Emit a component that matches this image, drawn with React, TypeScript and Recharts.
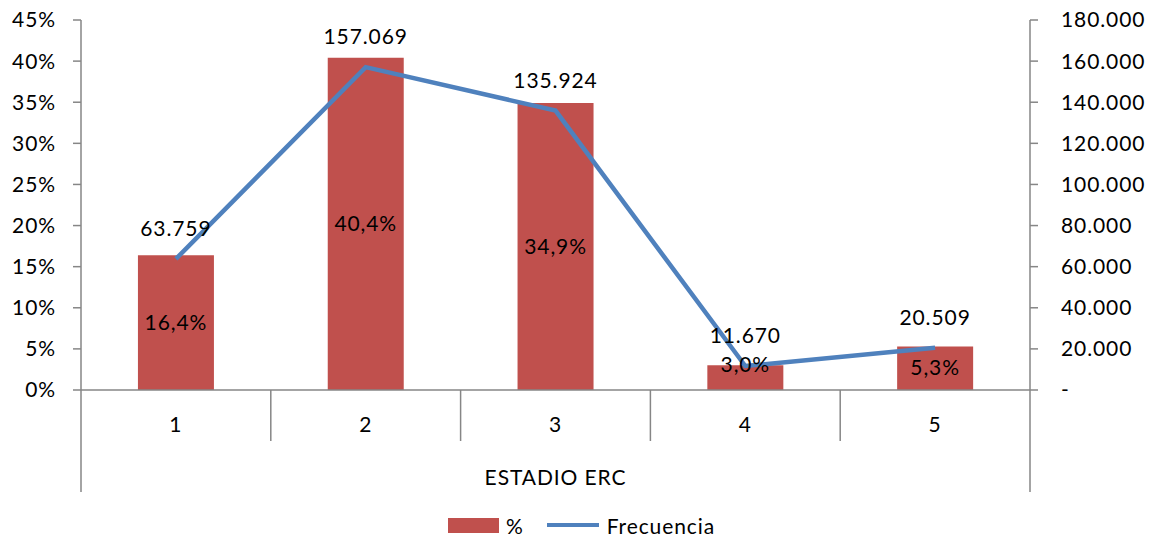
import React from "react";
import {
  Bar,
  ComposedChart,
  LabelList,
  Legend,
  Line,
  XAxis,
  YAxis,
} from "recharts";

const categories = ["1", "2", "3", "4", "5"];
const porcentaje = [16.4, 40.4, 34.9, 3.0, 5.3];
const frecuencia = [63759, 157069, 135924, 11670, 20509];
const leftTicks = [0, 5, 10, 15, 20, 25, 30, 35, 40, 45];
const rightTicks = [0, 20000, 40000, 60000, 80000, 100000, 120000, 140000, 160000, 180000];
const xTitle = "ESTADIO ERC";

const data = categories.map((c, i) => ({
  estadio: c,
  pct: porcentaje[i],
  freq: frecuencia[i],
}));

const W = 1163;
const H = 545;
const LEFT_W = 81;
const RIGHT_W = 133;
const TOP = 20;
const XAXIS_H = 115;
const LEGEND_H = 40;
const BAND = (W - LEFT_W - RIGHT_W) / categories.length;

const RED = "#C0504D";
const BLUE = "#4F81BD";
const AXIS = "#868686";
const FONT = 21;
const SPACING = 0.9;

const thousands = (v: number) => String(v).replace(/\B(?=(\d{3})+(?!\d))/g, ".");
const pctFmt = (v: number) => v.toFixed(1).replace(".", ",") + "%";

function CategoryTick(props: any) {
  const { x, y, payload, index } = props;
  const last = index === categories.length - 1;
  return (
    <g>
      <line x1={x - BAND / 2} x2={x - BAND / 2} y1={y} y2={index === 0 ? y + 102 : y + 51} stroke={AXIS} strokeWidth={1.5} />
      {last ? (
        <line x1={x + BAND / 2} x2={x + BAND / 2} y1={y} y2={y + 102} stroke={AXIS} strokeWidth={1.5} />
      ) : null}
      <text x={x} y={y + 42} textAnchor="middle" fontSize={FONT} letterSpacing={SPACING} fill="#000">
        {payload.value}
      </text>
    </g>
  );
}

function BarLabel(props: any) {
  const { x, y, width, height, value } = props;
  // short bars get the label nudged up to the bar top
  const cy = height < 30 ? y : y + height / 2;
  return (
    <text x={x + width / 2} y={cy} dy={7} textAnchor="middle" fontSize={FONT} letterSpacing={SPACING} fill="#000">
      {pctFmt(value)}
    </text>
  );
}

function LegendContent() {
  return (
    <div
      style={{
        height: LEGEND_H,
        display: "flex",
        justifyContent: "center",
        alignItems: "center",
        fontSize: FONT,
        letterSpacing: SPACING,
        color: "#000",
      }}
    >
      <span style={{ display: "inline-block", width: 51, height: 15, background: RED, marginRight: 7 }} />
      <span style={{ marginRight: 23 }}>%</span>
      <span style={{ display: "inline-block", width: 52, height: 4, background: BLUE, marginRight: 8 }} />
      <span>Frecuencia</span>
    </div>
  );
}

export default function App() {
  return (
    <div style={{ position: "absolute", left: 0, top: 0, width: W, height: H, background: "#fff", fontFamily: "Lato, sans-serif" }}>
      <ComposedChart
        width={W}
        height={H}
        data={data}
        barCategoryGap="30%"
        margin={{ top: TOP, right: 0, bottom: 0, left: 0 }}
      >
        <XAxis
          dataKey="estadio"
          height={XAXIS_H}
          tickSize={0}
          tickMargin={0}
          tickLine={false}
          axisLine={{ stroke: AXIS, strokeWidth: 1.5 }}
          tick={<CategoryTick />}
          interval={0}
          label={{ value: xTitle, position: "insideBottom", offset: 20, fontSize: FONT, fill: "#000", letterSpacing: SPACING }}
        />
        <YAxis
          yAxisId="left"
          width={LEFT_W}
          domain={[0, 45]}
          ticks={leftTicks}
          tickFormatter={(v: number) => `${v}%`}
          tickSize={8}
          tickMargin={17}
          axisLine={{ stroke: AXIS, strokeWidth: 1.5 }}
          tickLine={{ stroke: AXIS, strokeWidth: 1.5 }}
          tick={{ fontSize: FONT, fill: "#000", letterSpacing: SPACING }}
          interval={0}
        />
        <YAxis
          yAxisId="right"
          orientation="right"
          width={RIGHT_W}
          domain={[0, 180000]}
          ticks={rightTicks}
          tickFormatter={(v: number) => (v === 0 ? "-" : thousands(v))}
          tickSize={8}
          tickMargin={23}
          axisLine={{ stroke: AXIS, strokeWidth: 1.5 }}
          tickLine={{ stroke: AXIS, strokeWidth: 1.5 }}
          tick={{ fontSize: FONT, fill: "#000", letterSpacing: SPACING, textAnchor: "start" }}
          interval={0}
        />
        <Legend verticalAlign="bottom" height={LEGEND_H} content={<LegendContent />} />
        <Bar yAxisId="left" dataKey="pct" fill={RED} isAnimationActive={false}>
          <LabelList dataKey="pct" content={<BarLabel />} />
        </Bar>
        <Line
          yAxisId="right"
          type="linear"
          dataKey="freq"
          stroke={BLUE}
          strokeWidth={4.5}
          dot={false}
          activeDot={false}
          isAnimationActive={false}
        >
          <LabelList
            dataKey="freq"
            position="top"
            offset={23}
            formatter={(v: any) => thousands(Number(v))}
            style={{ fontSize: FONT, fill: "#000", letterSpacing: SPACING }}
          />
        </Line>
      </ComposedChart>
    </div>
  );
}
